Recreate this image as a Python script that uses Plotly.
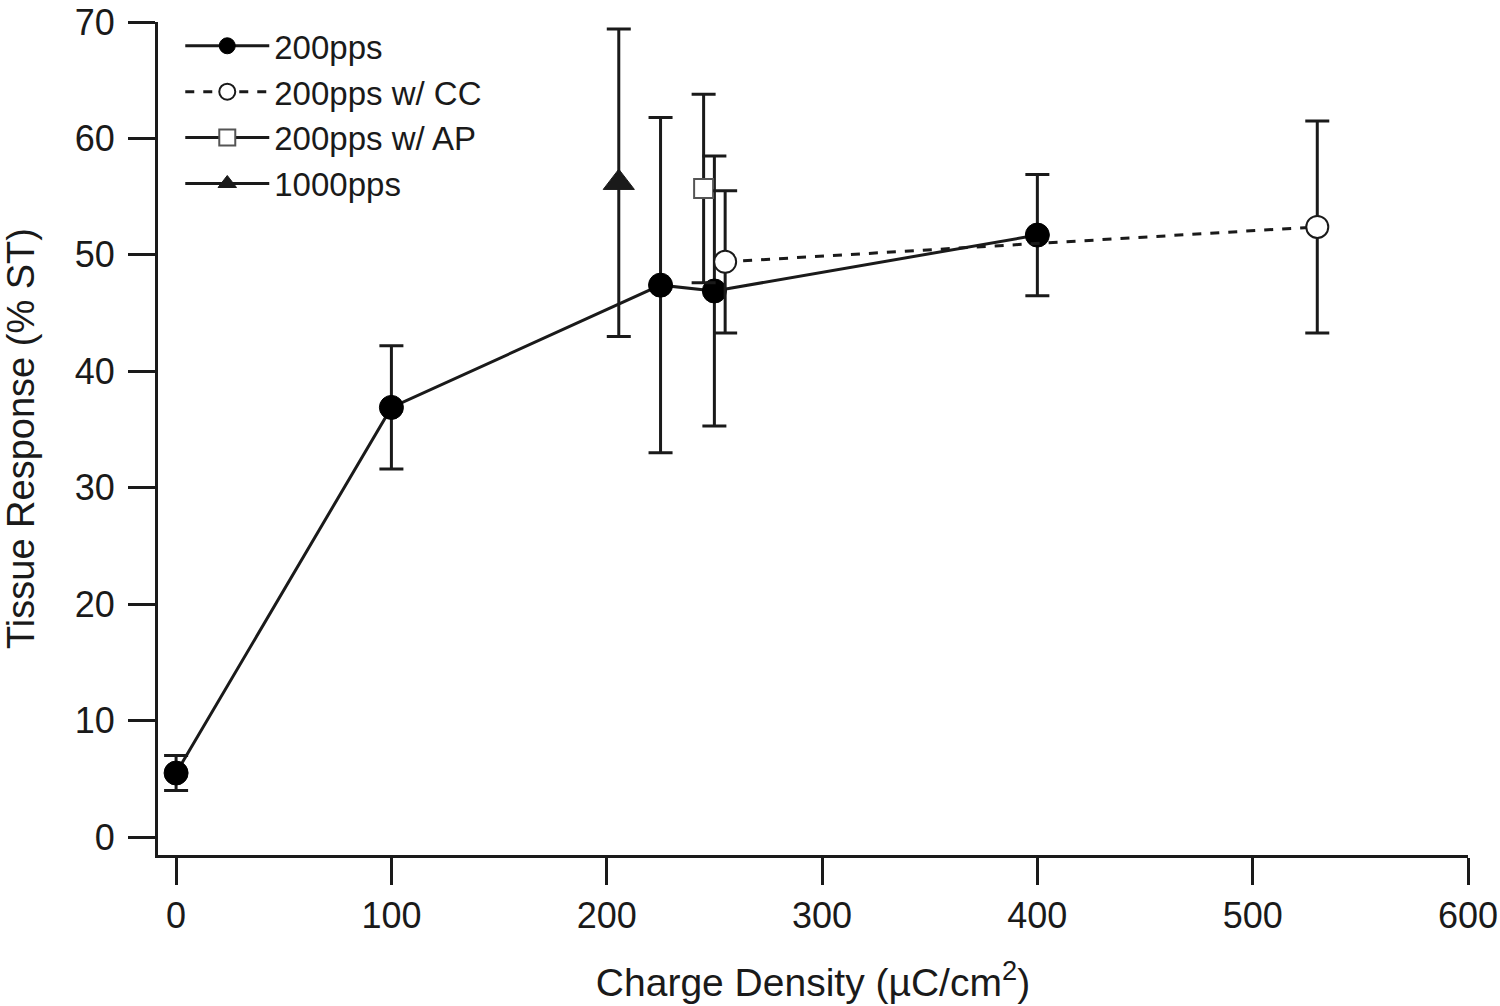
import plotly.graph_objects as go

# 200pps
x_200 = [0, 100, 225, 250, 400]
y_200 = [5.5, 36.9, 47.4, 46.9, 51.7]
e_200 = [1.5, 5.3, 14.4, 11.6, 5.2]

# 200pps w/ CC
x_cc = [255, 530]
y_cc = [49.4, 52.4]
e_cc = [6.1, 9.1]

# 200pps w/ AP
x_ap = [245]
y_ap = [55.7]
e_ap = [8.1]

# 1000pps
x_1000 = [205.6]
y_1000 = [56.2]
e_1000 = [13.2]

x_ticks = [0, 100, 200, 300, 400, 500, 600]
y_ticks = [0, 10, 20, 30, 40, 50, 60, 70]

INK = "#1a1a1a"
FONT = "Liberation Sans, Arial, sans-serif"

def eb(vals):
    return dict(type="data", array=vals, visible=True, color=INK, thickness=3, width=12)

fig = go.Figure()
fig.add_trace(go.Scatter(
    x=x_1000, y=y_1000, error_y=eb(e_1000), mode="lines+markers", name="1000pps",
    line=dict(color=INK, width=3),
    marker=dict(symbol="triangle-up", size=27, color=INK, line=dict(color=INK, width=1)),
    legendrank=4))
fig.add_trace(go.Scatter(
    x=x_200, y=y_200, error_y=eb(e_200), mode="lines+markers", name="200pps",
    line=dict(color=INK, width=3),
    marker=dict(symbol="circle", size=24, color="black", line=dict(color="black", width=1)),
    legendrank=1))
fig.add_trace(go.Scatter(
    x=x_ap, y=y_ap, error_y=eb(e_ap), mode="lines+markers", name="200pps w/ AP",
    line=dict(color=INK, width=3),
    marker=dict(symbol="square", size=19, color="white", line=dict(color="#555", width=2)),
    legendrank=3))
fig.add_trace(go.Scatter(
    x=x_cc, y=y_cc, error_y=eb(e_cc), mode="lines+markers", name="200pps w/ CC",
    line=dict(color=INK, width=3, dash="dash"),
    marker=dict(symbol="circle", size=22, color="white", line=dict(color=INK, width=2)),
    legendrank=2))

axis_common = dict(
    showline=True, linecolor=INK, linewidth=3, ticks="outside", ticklen=27, tickwidth=3,
    tickcolor=INK, showgrid=False, zeroline=False, mirror=False, automargin=False,
    ticklabeloverflow="allow",
    tickfont=dict(family=FONT, size=36, color=INK),
)
fig.update_xaxes(range=[-8.4, 600], tickvals=x_ticks, ticktext=[str(v) for v in x_ticks],
                 title=dict(text="Charge Density (µC/cm<sup>2</sup>)", font=dict(family=FONT, size=39, color=INK), standoff=34),
                 **axis_common)
fig.update_yaxes(range=[-1.54, 70], tickvals=y_ticks, ticktext=[str(v) for v in y_ticks],
                 ticklabelstandoff=6,
                 title=dict(text="Tissue Response (% ST)", font=dict(family=FONT, size=38, color=INK), standoff=50),
                 **axis_common)

fig.update_layout(
    width=1500, height=1006,
    margin=dict(l=158, r=32, t=22, b=151),
    plot_bgcolor="white", paper_bgcolor="white",
    font=dict(family=FONT, color=INK),
    legend=dict(x=0.017, y=1.005, xanchor="left", yanchor="top", bgcolor="rgba(0,0,0,0)",
                font=dict(family=FONT, size=33, color=INK), itemwidth=84, tracegroupgap=0),
    showlegend=True,
)

fig.write_html("out.html", config={"displayModeBar": False},
               post_script="document.body.style.margin='0px';")
